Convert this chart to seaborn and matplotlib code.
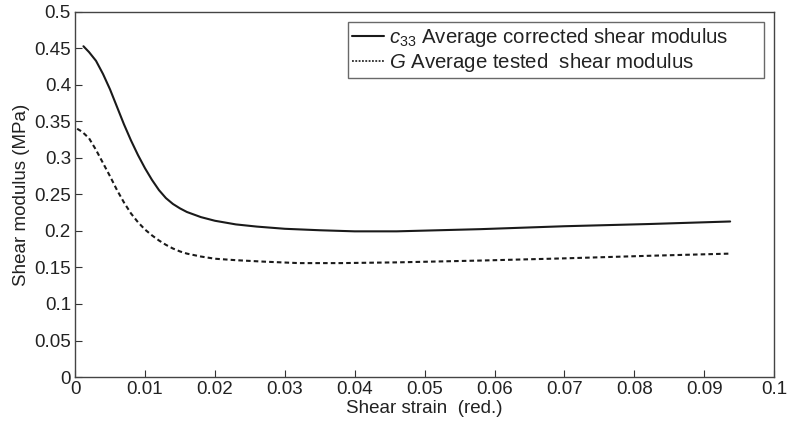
import numpy as np
import pandas as pd
import matplotlib
matplotlib.use("Agg")
import matplotlib.pyplot as plt
import seaborn as sns
from matplotlib.lines import Line2D

sns.set_style("ticks")
plt.rcParams['font.family'] = ['Liberation Sans', 'DejaVu Sans']
plt.rcParams['mathtext.fontset'] = 'custom'
plt.rcParams['mathtext.rm'] = 'Liberation Sans'
plt.rcParams['mathtext.it'] = 'Liberation Sans:italic'

corr_x = [0.0012, 0.002, 0.003, 0.004, 0.005, 0.006, 0.007, 0.008, 0.009, 0.010,
          0.011, 0.012, 0.013, 0.014, 0.015, 0.016, 0.018, 0.020, 0.023, 0.026,
          0.030, 0.035, 0.040, 0.046, 0.052, 0.058, 0.070, 0.082, 0.0937]
corr_y = [0.453, 0.445, 0.433, 0.415, 0.394, 0.370, 0.346, 0.324, 0.304, 0.286,
          0.270, 0.256, 0.245, 0.237, 0.231, 0.226, 0.219, 0.214, 0.209, 0.206,
          0.203, 0.201, 0.1995, 0.1995, 0.201, 0.2025, 0.2065, 0.2095, 0.213]

test_x = [0.0003, 0.001, 0.002, 0.003, 0.004, 0.005, 0.006, 0.007, 0.008, 0.009,
          0.010, 0.011, 0.012, 0.013, 0.014, 0.015, 0.016, 0.018, 0.020, 0.023,
          0.027, 0.032, 0.038, 0.046, 0.058, 0.070, 0.082, 0.0937]
test_y = [0.340, 0.336, 0.327, 0.311, 0.293, 0.275, 0.256, 0.239, 0.224, 0.212,
          0.202, 0.194, 0.187, 0.181, 0.176, 0.172, 0.169, 0.165, 0.162, 0.160,
          0.158, 0.156, 0.156, 0.157, 0.1595, 0.1625, 0.166, 0.169]

label_corr = r"$c_{33}$ Average corrected shear modulus"
label_test = r"$G$ Average tested  shear modulus"

df = pd.concat([
    pd.DataFrame({"strain": corr_x, "modulus": corr_y, "series": label_corr}),
    pd.DataFrame({"strain": test_x, "modulus": test_y, "series": label_test}),
])

fig = plt.figure(figsize=(7.9, 4.26), dpi=100)
ax = fig.add_axes([0.095, 0.115, 0.885, 0.857])

sns.lineplot(data=df, x="strain", y="modulus", hue="series", style="series",
             palette=["#1a1a1a", "#1a1a1a"],
             dashes={label_corr: "", label_test: (2.2, 1.5)},
             linewidth=1.5, legend=False, ax=ax, sort=False)
for ln in ax.get_lines():
    ln.set_solid_joinstyle("round")
    ln.set_dash_joinstyle("round")

ax.set_xlim(0, 0.1)
ax.set_ylim(0, 0.5)
ax.set_xticks(np.arange(0, 0.1001, 0.01))
ax.set_xticklabels(["0", "0.01", "0.02", "0.03", "0.04", "0.05", "0.06",
                    "0.07", "0.08", "0.09", "0.1"])
ax.set_yticks(np.arange(0, 0.5001, 0.05))
ax.set_yticklabels(["0", "0.05", "0.1", "0.15", "0.2", "0.25", "0.3",
                    "0.35", "0.4", "0.45", "0.5"])
ax.tick_params(direction="in", length=5, width=0.8, labelsize=13.5,
               colors="#333333", labelcolor="#222222", top=False, right=False, pad=3)
for s in ax.spines.values():
    s.set_color("#444444")
    s.set_linewidth(1.0)

ax.set_xlabel("Shear strain  (red.)", fontsize=13.5, color="#222222", labelpad=1)
ax.set_ylabel("Shear modulus (MPa)", fontsize=13.5, color="#222222", labelpad=3)

handles = [Line2D([], [], color="#1a1a1a", lw=1.5, ls="-"),
           Line2D([], [], color="#1a1a1a", lw=1.2, ls=(0, (1.1, 0.9)))]
leg = ax.legend(handles, [label_corr, label_test], loc="upper left",
                bbox_to_anchor=(0.3906, 0.8156, 0.595, 0.156), mode="expand",
                fontsize=14.7, frameon=True,
                fancybox=False, handlelength=1.57, handletextpad=0.25,
                borderpad=0.18, labelspacing=0.12, borderaxespad=0)
leg.get_frame().set_edgecolor("#444444")
leg.get_frame().set_linewidth(1.0)
for t in leg.get_texts():
    t.set_color("#222222")

fig.savefig("out.png", dpi=100)
